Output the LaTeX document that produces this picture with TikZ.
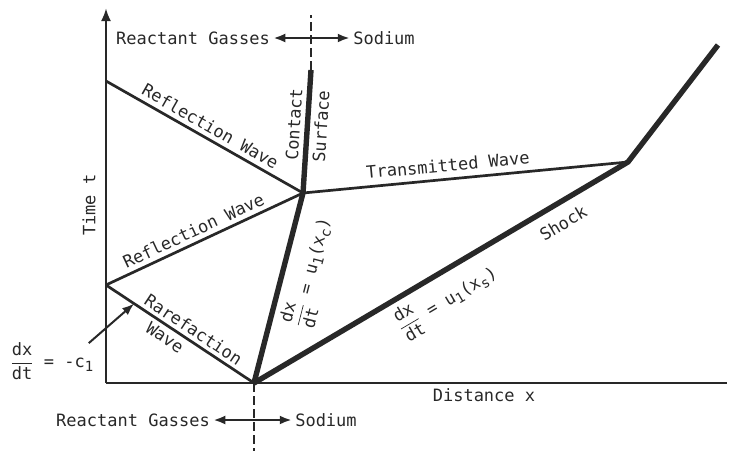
\documentclass[tikz,border=0pt]{standalone}
\usepackage{amsmath}
\usepackage{fontspec}
\setmainfont{DejaVu Sans Mono}
\usepackage{tikz}
\usetikzlibrary{arrows.meta,calc}
\definecolor{inkgray}{RGB}{40,40,40}
\newcommand{\lowidx}[1]{\raisebox{-0.45ex}{\fontsize{14}{14}\selectfont #1}}

\tikzset{
  wave/.style={inkgray,line width=2.7pt},
  front/.style={inkgray,line width=5.4pt,line join=round},
  divider/.style={inkgray,line width=2.7pt,dash pattern=on 9pt off 4pt},
  lbl/.style={text=inkgray,font=\fontsize{17}{19}\selectfont},
  sidearrow/.style={inkgray,line width=2.4pt,{Latex[length=12pt,width=9pt]}-{Latex[length=12pt,width=9pt]}}
}

\begin{document}
\begin{tikzpicture}[x=1pt,y=-1pt,>=Latex]
\useasboundingbox (0,0) rectangle (729,451);
% ---------- key points (pixel grid, y down) ----------
\coordinate (O)    at (106,383);
\coordinate (tTop) at (106,8);
\coordinate (xEnd) at (727,383);
\coordinate (A)    at (106,81);
\coordinate (B)    at (106,285);
\coordinate (P0)   at (254,383);
\coordinate (C)    at (303,193);
\coordinate (T)    at (311,70);
\coordinate (S)    at (628,162);
\coordinate (E)    at (718,45);
\coordinate (divTop) at (311,15);
\coordinate (divBot) at (254,451);
% ---------- axes ----------
\draw[wave,-{Latex[length=13pt,width=10pt]}] (O) -- (tTop);
\draw[wave] (O) -- (xEnd);
\node[lbl,rotate=90] (timeLbl) at (89,205) {Time t};
\node[lbl] (distLbl) at (484,395) {Distance x};
% ---------- waves ----------
\draw[wave] (A) -- (C) node[lbl,sloped,midway,above=1pt] (reflUp) {Reflection Wave};
\draw[wave] (B) -- (C) node[lbl,sloped,pos=0.47,above=1pt] (reflLow) {Reflection Wave};
\draw[wave] (B) -- (P0)
  node[lbl,sloped,pos=0.55,above=0pt] (rareA) {Rarefaction}
  node[lbl,sloped,pos=0.44,below=0pt] (rareB) {Wave};
\draw[wave] (C) -- (S) node[lbl,sloped,pos=0.45,above=3pt] (transLbl) {Transmitted Wave};
% ---------- contact surface and shock ----------
\draw[front] (P0) -- (C)
  node[lbl,sloped,pos=0.62,below=2pt] (uc) {$\dfrac{\text{dx}}{\text{dt}}$ = u\lowidx{1}(x\lowidx{c})}
  -- (T)
  node[lbl,sloped,pos=0.55,above=1pt] (contLbl) {Contact}
  node[lbl,sloped,pos=0.55,below=1pt] (surfLbl) {Surface};
\draw[front] (P0) -- (S)
  node[lbl,sloped,pos=0.8,below=7pt] (shockLbl) {Shock}
  node[lbl,sloped,pos=0.48,below=2pt] (us) {$\dfrac{\text{dx}}{\text{dt}}$ = u\lowidx{1}(x\lowidx{s})}
  -- (E);
% ---------- rarefaction slope ----------
\coordinate (rareTip) at ($(B)!0.19!(P0)$);
\node[lbl] (slopeRare) at (52,361) {$\dfrac{\text{dx}}{\text{dt}}$ = -c\lowidx{1}};
\draw[wave,line width=2pt,-{Latex[length=12pt,width=9pt]}] ([xshift=-8pt,yshift=-4pt]slopeRare.north east) -- (rareTip);
% ---------- dividers ----------
\draw[divider] (T) -- (divTop);
\draw[divider] (P0) -- (divBot);
\node[lbl] (gasTop) at (193,38) {Reactant Gasses};
\node[lbl] (sodTop) at (384,38) {Sodium};
\draw[sidearrow] (gasTop) -- (sodTop);
\node[lbl] (gasBot) at (133,420) {Reactant Gasses};
\node[lbl] (sodBot) at (326,420) {Sodium};
\draw[sidearrow] (gasBot) -- (sodBot);
\end{tikzpicture}
\end{document}
